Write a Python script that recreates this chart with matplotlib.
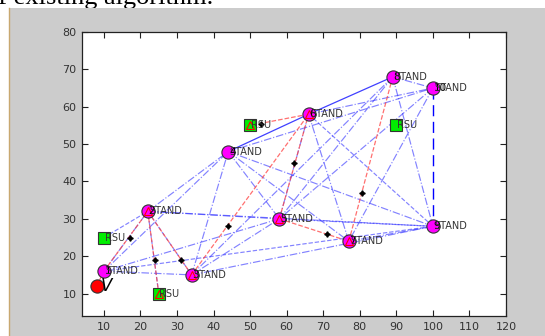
import matplotlib.pyplot as plt
from matplotlib.patches import Rectangle
from matplotlib.lines import Line2D

# Vehicle nodes (STAND) and road side units
node_x = [10, 22, 34, 44, 58, 66, 77, 89, 100, 100]
node_y = [16, 32, 15, 48, 30, 58, 24, 68, 28, 65]
node_id = ['1', '2', '3', '4', '5', '6', '7', '8', '9', '10']
rsu_x = [10, 25, 50, 90]
rsu_y = [25, 10, 55, 55]
src_x = [8]
src_y = [12]

# Links between nodes (1-based ids)
blue_dashdot = [(1, 3), (1, 4), (1, 5), (1, 2), (2, 4), (2, 5), (2, 9), (3, 4),
                (3, 8), (3, 9), (3, 5), (4, 5), (4, 7), (4, 9), (4, 10), (6, 10),
                (6, 7), (6, 5), (8, 10), (8, 9), (8, 5), (10, 5), (10, 7), (7, 9),
                (5, 9)]
blue_dashed = [(6, 9), (2, 3), (1, 9)]
blue_solid = [(4, 6), (6, 8)]
blue_long = [(10, 9)]

# Route found by the algorithm
red_path = [(1, 2), (2, 3), (3, 6), (5, 6), (5, 7), (7, 8)]
red_rsu = [(2, 2), (6, 3)]

# small direction marks on the route
arrow_x = [17, 24, 31, 44, 62, 71, 80.5, 53]
arrow_y = [25, 19, 19, 28, 45, 26, 37, 55.5]

tri_nodes = [2, 3, 5, 6, 7]
tri_rsu = [2, 3]


def xy(i):
    return node_x[i - 1], node_y[i - 1]


fig = plt.figure(figsize=(5.45, 3.36), dpi=100)
fig.patch.set_facecolor('white')

# cut-off caption above the figure window
fig.text(213 / 545, 1 - 4 / 336, 'of existing algorithm.', ha='right', va='baseline',
         family='Liberation Serif', fontsize=19, color='black', zorder=-3)
fig.patches.append(Rectangle((9 / 545, 0), 1, 1 - 8 / 336, transform=fig.transFigure,
                             facecolor='#cccccc', edgecolor='none', zorder=-2))
fig.lines.append(Line2D([9 / 545, 9 / 545], [0, 1 - 8 / 336], transform=fig.transFigure,
                        color='#c8a870', lw=1.0, zorder=-1))

ax = fig.add_axes([82 / 545, 20 / 336, 424 / 545, 284 / 336])
ax.set_facecolor('white')

for a, b in blue_dashdot:
    (x1, y1), (x2, y2) = xy(a), xy(b)
    ax.plot([x1, x2], [y1, y2], color='#3030ff', alpha=0.6, lw=0.85, ls='-.')
for a, b in blue_dashed:
    (x1, y1), (x2, y2) = xy(a), xy(b)
    ax.plot([x1, x2], [y1, y2], color='#3030ff', alpha=0.6, lw=0.85, ls='--')
for a, b in blue_solid:
    (x1, y1), (x2, y2) = xy(a), xy(b)
    ax.plot([x1, x2], [y1, y2], color='#1010ff', alpha=0.8, lw=0.9)
for a, b in blue_long:
    (x1, y1), (x2, y2) = xy(a), xy(b)
    ax.plot([x1, x2], [y1, y2], color='#0000ff', lw=1.0, dashes=(8, 4))

# rsu links
ax.plot([rsu_x[0], node_x[1]], [rsu_y[0], node_y[1]], color='#3030ff', alpha=0.6, lw=0.85, ls='--')
ax.plot([rsu_x[1], node_x[1]], [rsu_y[1], node_y[1]], color='#3030ff', alpha=0.6, lw=0.85, ls='--')

for a, b in red_path:
    (x1, y1), (x2, y2) = xy(a), xy(b)
    ax.plot([x1, x2], [y1, y2], color='#ff4040', alpha=0.75, lw=0.9, ls='--')
for n, r in red_rsu:
    x1, y1 = xy(n)
    ax.plot([x1, rsu_x[r - 1]], [y1, rsu_y[r - 1]], color='#ff4040', alpha=0.75, lw=0.9, ls='--')
x1, y1 = xy(1)
ax.plot([src_x[0], x1], [src_y[0], y1], color='#ff4040', alpha=0.75, lw=0.9)

ax.plot(arrow_x, arrow_y, ls='none', marker=(4, 1, 0), ms=4, color='black')

ax.plot(rsu_x, rsu_y, 's', ms=8.5, mfc='#00ee00', mec='#333333', mew=0.8)
ax.plot(node_x, node_y, 'o', ms=9.5, mfc='#ff00ff', mec='#333333', mew=0.8)
ax.plot(src_x, src_y, 'o', ms=9.5, mfc='#ff0000', mec='#333333', mew=0.8)

ax.plot([node_x[i - 1] for i in tri_nodes], [node_y[i - 1] for i in tri_nodes], '^',
        ms=6, mfc='none', mec='red', mew=0.8)
ax.plot([rsu_x[i - 1] for i in tri_rsu], [rsu_y[i - 1] for i in tri_rsu], '^',
        ms=6, mfc='none', mec='red', mew=0.8)

# node number drawn over the start of its label, as in the original
for x, y, k in zip(node_x, node_y, node_id):
    ax.text(x + 0.2, y, k, fontsize=7.5, color='black', ha='left', va='center')
    ax.text(x + 0.4, y, 'STAND', fontsize=7, color='#333333', ha='left', va='center')
for x, y in zip(rsu_x, rsu_y):
    ax.text(x + 0.2, y, 'RSU', fontsize=7, color='#333333', ha='left', va='center')
ax.text(src_x[0] + 1.0, src_y[0], 'V', fontsize=12, style='italic', color='black',
        ha='left', va='center')

ax.set_xlim(4, 120)
ax.set_ylim(4, 80)
ax.set_xticks(range(10, 121, 10))
ax.set_yticks(range(10, 81, 10))
ax.tick_params(direction='in', top=True, right=True, length=4, width=0.8,
               labelsize=8, labelcolor='#333333', color='#222222', pad=4)
for s in ax.spines.values():
    s.set_color('#222222')
    s.set_linewidth(0.9)

fig.savefig('out.png', dpi=100)
